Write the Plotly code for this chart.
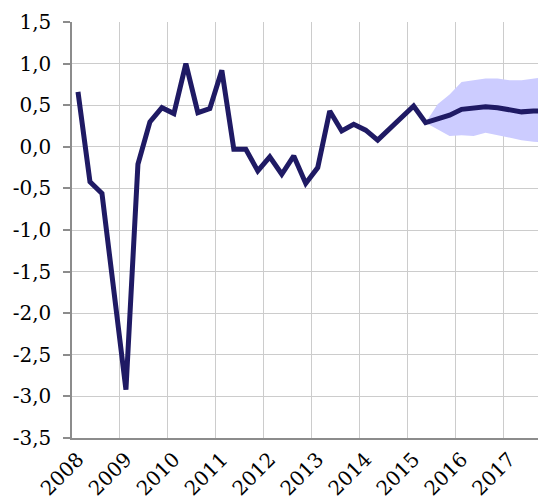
import plotly.graph_objects as go

# quarterly series 2008Q1 - 2017Q4
quarters = [f"{y}Q{q}" for y in range(2008, 2018) for q in range(1, 5)]
values = [
    0.66, -0.42, -0.56, -1.80,
    -2.92, -0.21, 0.30, 0.47,
    0.40, 1.00, 0.41, 0.46,
    0.92, -0.03, -0.03, -0.29,
    -0.12, -0.33, -0.11, -0.44,
    -0.25, 0.43, 0.19, 0.27,
    0.20, 0.08, 0.22, 0.37,
    0.49, 0.29, 0.34, 0.38,
    0.45, 0.46, 0.48, 0.47,
    0.44, 0.42, 0.43, 0.43,
]

# forecast band, 2015Q2 - 2017Q4
band_quarters = quarters[29:]
band_upper = [0.29, 0.51, 0.63, 0.78, 0.80, 0.82, 0.82, 0.80, 0.80, 0.82, 0.84]
band_lower = [0.29, 0.21, 0.13, 0.14, 0.13, 0.17, 0.14, 0.11, 0.08, 0.06, 0.05]

years = [str(y) for y in range(2008, 2018)]
y_ticks = [-3.5, -3.0, -2.5, -2.0, -1.5, -1.0, -0.5, 0.0, 0.5, 1.0, 1.5]
y_labels = ["-3,5", "-3,0", "-2,5", "-2,0", "-1,5", "-1,0", "-0,5", "0,0", "0,5", "1,0", "1,5"]


def qpos(label):
    # centre of the quarter on a continuous year scale
    return int(label[:4]) + (int(label[5]) - 0.5) / 4


x = [qpos(q) for q in quarters]
bx = [qpos(q) for q in band_quarters]

fig = go.Figure()
fig.add_trace(go.Scatter(x=bx, y=band_upper, mode="lines", line=dict(width=0),
                         hoverinfo="skip", showlegend=False))
fig.add_trace(go.Scatter(x=bx, y=band_lower, mode="lines", line=dict(width=0),
                         fill="tonexty", fillcolor="#CCCCFF",
                         hoverinfo="skip", showlegend=False))
fig.add_trace(go.Scatter(x=x, y=values, mode="lines",
                         line=dict(color="#1F1A64", width=5),
                         showlegend=False))

# page body has an 8px margin, so the figure is sized to fit inside it
fig.update_layout(
    width=538, height=493, autosize=False,
    margin=dict(l=63.5, r=0, t=13.6, b=62.5),
    paper_bgcolor="white", plot_bgcolor="white",
    font=dict(family="DejaVu Serif", size=20, color="black"),
)
fig.update_xaxes(
    range=[2008, 2008 + 474.5 / 48],
    tickvals=[qpos(y + "Q1") for y in years], ticktext=years,
    tickangle=-45, ticks="", showgrid=False,
    minor=dict(tickvals=list(range(2009, 2018)), showgrid=True,
               gridcolor="#CCCCCC", gridwidth=1.3, ticks=""),
    showline=True, linecolor="#8C8C8C", linewidth=1.5,
    zeroline=False,
)
fig.update_yaxes(
    range=[-3.5, 1.5],
    tickvals=y_ticks, ticktext=y_labels,
    ticks="outside", ticklen=7, tickcolor="#8C8C8C", tickwidth=1.5,
    showgrid=True, gridcolor="#CCCCCC", gridwidth=1.3,
    showline=True, linecolor="#8C8C8C", linewidth=1.5,
    zeroline=False, ticklabelstandoff=8,
)

fig.write_html("out.html")
